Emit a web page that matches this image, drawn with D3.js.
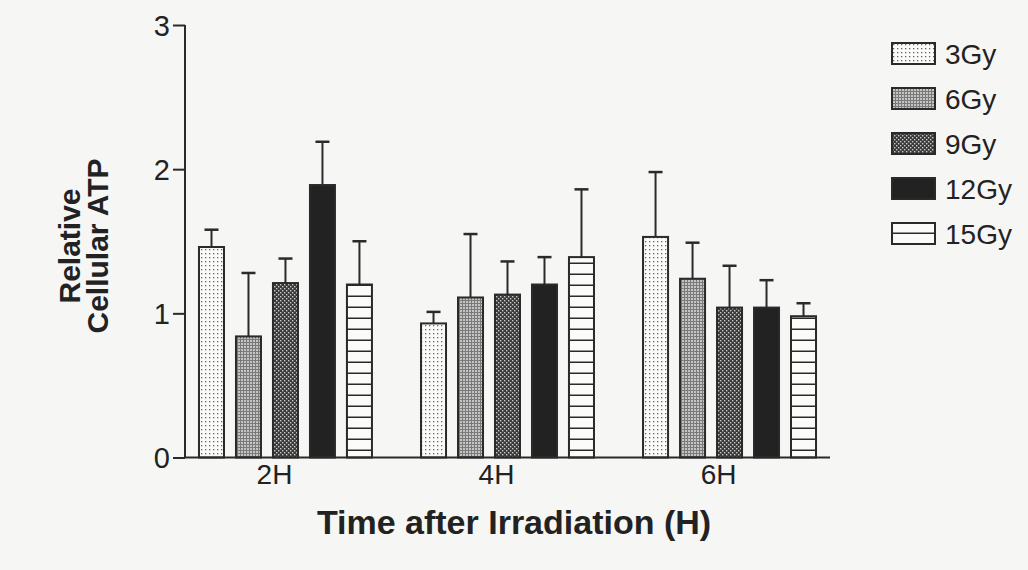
<!DOCTYPE html>
<html>
<head>
<meta charset="utf-8">
<script src="https://d3js.org/d3.v7.min.js"></script>
<style>
  body { margin: 0; background: #f6f6f4; }
  svg { display: block; font-family: "Liberation Sans", Arial, sans-serif; }
</style>
</head>
<body>
<svg width="1028" height="570"></svg>
<script>

// values (mean, error bar length)
var times = ["2H", "4H", "6H"];
var doses = ["3Gy", "6Gy", "9Gy", "12Gy", "15Gy"];
var atp2H = [1.46, 0.84, 1.21, 1.89, 1.20];
var err2H = [0.12, 0.44, 0.17, 0.30, 0.30];
var atp4H = [0.93, 1.11, 1.13, 1.20, 1.39];
var err4H = [0.08, 0.44, 0.23, 0.19, 0.47];
var atp6H = [1.53, 1.24, 1.04, 1.04, 0.98];
var err6H = [0.45, 0.25, 0.29, 0.19, 0.09];
var yTicks = [0, 1, 2, 3];

var means = [atp2H, atp4H, atp6H];
var errs = [err2H, err4H, err6H];
var rows = [];
times.forEach(function(t, i) {
  doses.forEach(function(d, j) {
    rows.push({ time: t, dose: d, v: means[i][j], e: errs[i][j] });
  });
});

var svg = d3.select("svg");
var ink = "#2a2a2a";

var y = d3.scaleLinear().domain([0, 3]).range([457.5, 25]);
var x0 = d3.scaleBand().domain(times).range([185, 830])
    .paddingInner(0.221).paddingOuter(0.063);
var x1 = d3.scaleBand().domain(doses).range([0, x0.bandwidth()])
    .paddingInner(0.324).paddingOuter(0);

// fill patterns for each dose
var defs = svg.append("defs");

var p3 = defs.append("pattern").attr("id", "p3Gy")
    .attr("patternUnits", "userSpaceOnUse").attr("width", 4).attr("height", 4);
p3.append("rect").attr("width", 4).attr("height", 4).attr("fill", "#fbfbfa");
p3.append("rect").attr("x", 1).attr("y", 1).attr("width", 1.3).attr("height", 1.3).attr("fill", "#666");

var p6 = defs.append("pattern").attr("id", "p6Gy")
    .attr("patternUnits", "userSpaceOnUse").attr("width", 3).attr("height", 3);
p6.append("rect").attr("width", 3).attr("height", 3).attr("fill", "#c4c4c4");
p6.append("rect").attr("width", 3).attr("height", 1).attr("fill", "#7a7a7a");
p6.append("rect").attr("width", 1).attr("height", 3).attr("fill", "#7a7a7a");

var p9 = defs.append("pattern").attr("id", "p9Gy")
    .attr("patternUnits", "userSpaceOnUse").attr("width", 4).attr("height", 4);
p9.append("rect").attr("width", 4).attr("height", 4).attr("fill", "#3a3a3a");
p9.append("rect").attr("x", 0).attr("y", 0).attr("width", 1.4).attr("height", 1.4).attr("fill", "#c8c8c8");
p9.append("rect").attr("x", 2).attr("y", 2).attr("width", 1.4).attr("height", 1.4).attr("fill", "#c8c8c8");

var p15 = defs.append("pattern").attr("id", "p15Gy")
    .attr("patternUnits", "userSpaceOnUse").attr("width", 8).attr("height", 11);
p15.append("rect").attr("width", 8).attr("height", 11).attr("fill", "#fbfbfa");
p15.append("rect").attr("y", 9.5).attr("width", 8).attr("height", 2).attr("fill", ink);

var fills = {
  "3Gy": "url(#p3Gy)",
  "6Gy": "url(#p6Gy)",
  "9Gy": "url(#p9Gy)",
  "12Gy": "#222",
  "15Gy": "url(#p15Gy)"
};

// error bars (drawn first so the bar covers the stem base)
var eb = svg.append("g").attr("stroke", ink).attr("stroke-width", 2);
rows.forEach(function(d) {
  var cx = x0(d.time) + x1(d.dose) + x1.bandwidth() / 2;
  eb.append("line").attr("x1", cx).attr("x2", cx)
      .attr("y1", y(d.v)).attr("y2", y(d.v + d.e));
  eb.append("line").attr("x1", cx - 7).attr("x2", cx + 7)
      .attr("y1", y(d.v + d.e)).attr("y2", y(d.v + d.e))
      .attr("stroke-width", 2.5);
});

// bars
svg.append("g").selectAll("rect")
  .data(rows)
  .enter().append("rect")
    .attr("x", function(d) { return x0(d.time) + x1(d.dose); })
    .attr("y", function(d) { return y(d.v); })
    .attr("width", x1.bandwidth())
    .attr("height", function(d) { return y(0) - y(d.v); })
    .attr("fill", function(d) { return fills[d.dose]; })
    .attr("stroke", ink)
    .attr("stroke-width", 2);

// y axis
var ya = svg.append("g").attr("transform", "translate(185,0)")
    .call(d3.axisLeft(y).tickValues(yTicks).tickFormat(d3.format("d"))
      .tickSize(12).tickPadding(3));
ya.select(".domain").attr("stroke", ink).attr("stroke-width", 2)
    .attr("d", "M0," + y(3) + "V" + y(0));
ya.selectAll(".tick line").attr("stroke", ink).attr("stroke-width", 2);
ya.selectAll(".tick text").attr("fill", "#222").attr("font-size", 29)
    .attr("dy", "0.36em");

// x axis
var xa = svg.append("g").attr("transform", "translate(0," + y(0) + ")")
    .call(d3.axisBottom(x0).tickSize(0).tickPadding(4));
xa.select(".domain").attr("stroke", ink).attr("stroke-width", 2)
    .attr("d", "M185,0H830");
xa.selectAll(".tick text").attr("fill", "#222").attr("font-size", 28)
    .attr("dx", -11).attr("dy", "0.8em");

// axis titles
svg.append("text")
    .attr("x", 514).attr("y", 534)
    .attr("text-anchor", "middle")
    .attr("font-size", 34).attr("font-weight", "bold").attr("fill", "#222")
    .text("Time after Irradiation (H)");

var yt = svg.append("text")
    .attr("transform", "translate(0,246) rotate(-90)")
    .attr("text-anchor", "middle")
    .attr("font-size", 30).attr("font-weight", "bold").attr("fill", "#222");
yt.append("tspan").attr("x", 0).attr("y", 80).text("Relative");
yt.append("tspan").attr("x", 0).attr("y", 108).text("Cellular ATP");

// legend
var lg = svg.append("g").attr("transform", "translate(892,43)");
var item = lg.selectAll("g").data(doses).enter().append("g")
    .attr("transform", function(d, i) { return "translate(0," + i * 45 + ")"; });
item.append("rect")
    .attr("width", 43).attr("height", 21)
    .attr("fill", function(d) { return fills[d]; })
    .attr("stroke", ink).attr("stroke-width", 2);
item.append("text")
    .attr("x", 53).attr("y", 21)
    .attr("font-size", 28).attr("fill", "#222")
    .text(function(d) { return d; });

</script>
</body>
</html>
